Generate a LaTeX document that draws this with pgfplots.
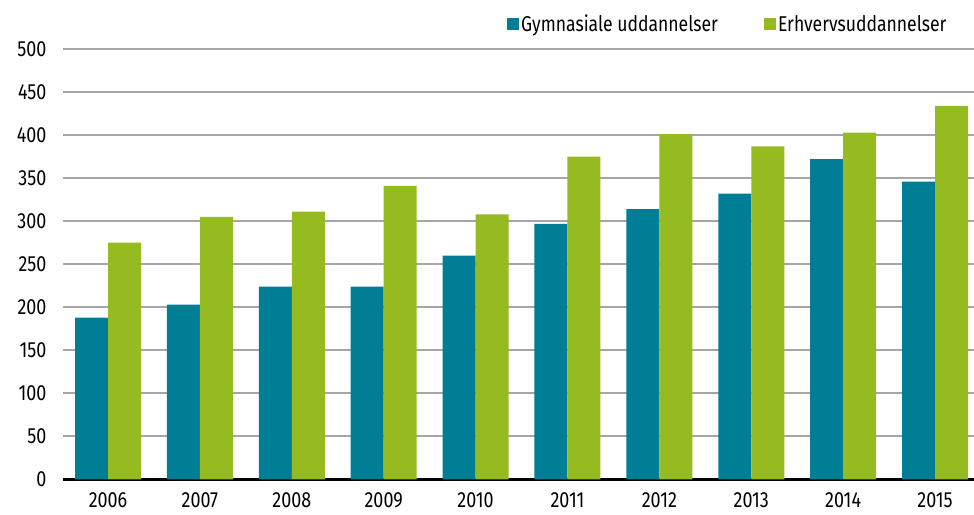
\documentclass[border=0pt]{standalone}
\usepackage{fontspec}
\setmainfont[FakeStretch=0.82]{Fira Sans}
\usepackage{pgfplots}
\pgfplotsset{compat=1.18}
\definecolor{teal1}{RGB}{0,126,150}
\definecolor{green1}{RGB}{149,187,33}
\definecolor{gridc}{RGB}{166,166,166}
\begin{document}
\begin{tikzpicture}
\useasboundingbox (0,0) rectangle (974bp,515bp);
\begin{axis}[
  at={(63bp,35.5bp)}, anchor=south west,
  scale only axis, width=911bp, height=430.5bp,
  ybar=0pt, bar width=33bp,
  xmin=-0.49, xmax=9.424, ymin=0, ymax=500,
  xtick=data,
  xticklabels={2006,2007,2008,2009,2010,2011,2012,2013,2014,2015},
  ytick={0,50,...,500},
  major tick length=0pt,
  axis x line=bottom, axis y line=left,
  x axis line style={-, black, line width=2.5bp},
  y axis line style={draw=none},
  ymajorgrids, grid style={gridc, line width=2bp},
  tick label style={font=\fontsize{22}{26}\selectfont},
  /pgf/number format/assume math mode=true,
  yticklabel style={xshift=-13bp},
  xticklabel style={yshift=-10bp},
  legend style={at={(rel axis cs:0.484,1.058)}, anchor=west, draw=none, fill=none,
    legend columns=2, font=\fontsize{21.5}{25}\selectfont,
    /tikz/every even column/.append style={column sep=44bp}},
  legend image code/.code={\fill[#1] (0bp,-6bp) rectangle (12bp,6bp);},
]
\addplot[fill=teal1, draw=none] coordinates {(0,188) (1,203) (2,224) (3,224) (4,260) (5,297) (6,314) (7,332) (8,372) (9,346)};
\addplot[fill=green1, draw=none] coordinates {(0,275) (1,305) (2,311) (3,341) (4,308) (5,375) (6,401) (7,387) (8,403) (9,434)};
\legend{Gymnasiale uddannelser, Erhvervsuddannelser}
\end{axis}
\end{tikzpicture}
\end{document}
